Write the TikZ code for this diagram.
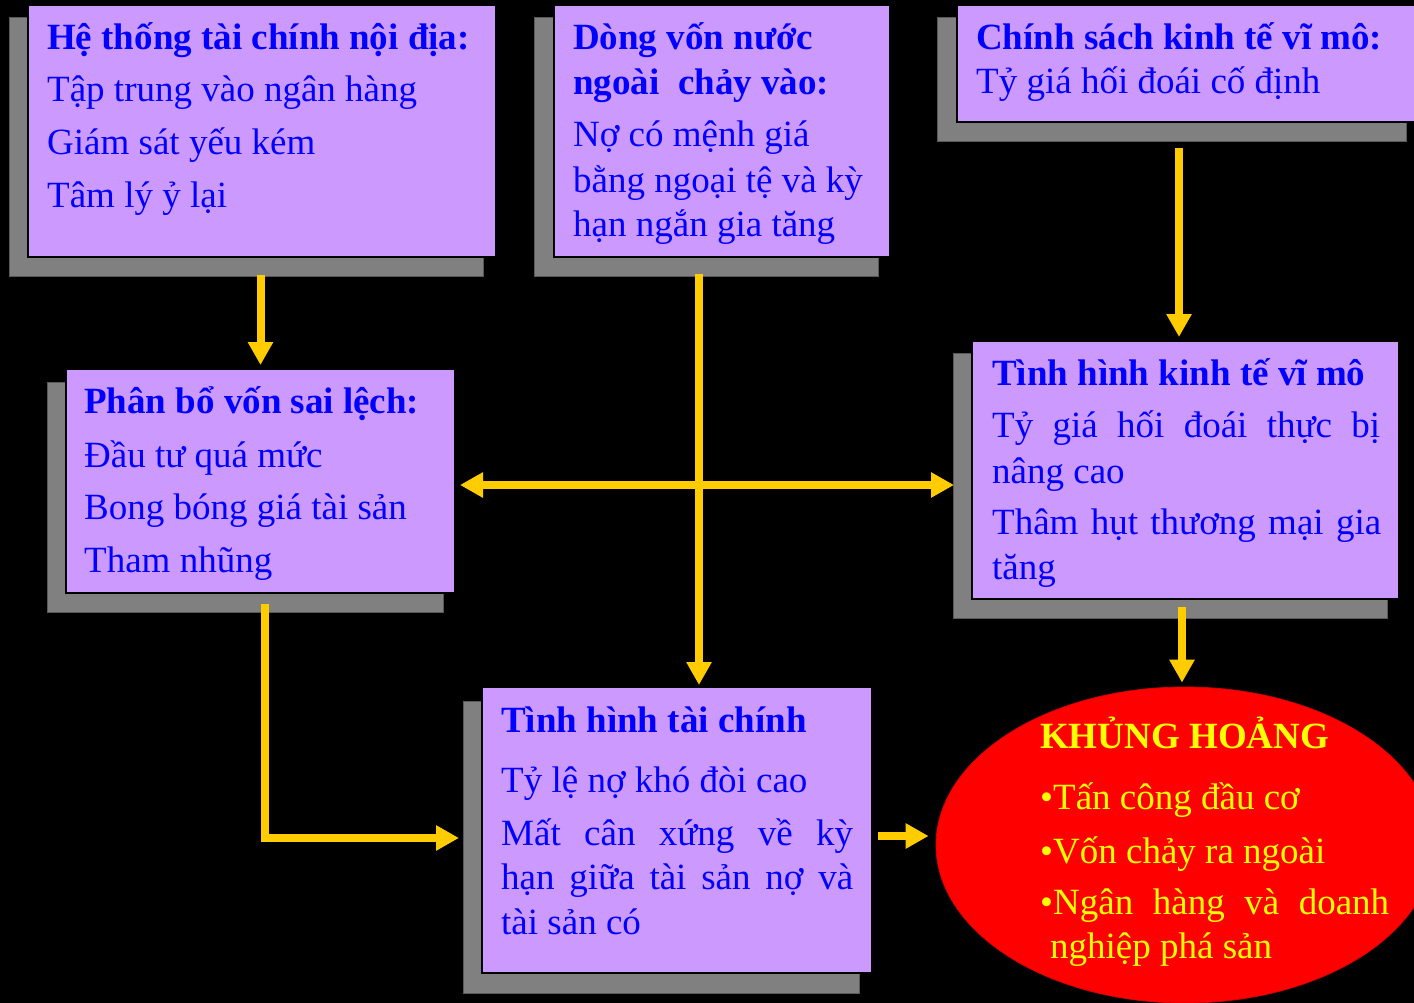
\documentclass[tikz,border=0pt]{standalone}
\usepackage{fontspec}
\setmainfont{Liberation Serif}
\usetikzlibrary{arrows.meta,shapes.geometric}
\definecolor{boxpurple}{HTML}{CC99FF}
\definecolor{shadowgray}{HTML}{808080}
\definecolor{arrowyellow}{HTML}{FFCC00}
\definecolor{txtblue}{HTML}{0000FF}
\definecolor{crisisred}{HTML}{FF0000}
\definecolor{crisisyellow}{HTML}{FFFF00}
\tikzset{
  shadowbox/.style={fill=shadowgray, draw=black!65, line width=0.8pt, inner sep=0pt, outer sep=0pt, anchor=north west},
  pbox/.style={fill=boxpurple, draw=black, line width=1.5pt, inner sep=0pt, outer sep=0pt, anchor=north west},
  txt/.style={font=\fontsize{37}{44}\selectfont, text=txtblue, anchor=base west, inner sep=0pt},
  btxt/.style={txt, font=\fontsize{37}{44}\selectfont\bfseries},
  ytxt/.style={txt, text=crisisyellow},
  ybtxt/.style={btxt, text=crisisyellow},
  arr/.style={draw=arrowyellow, line width=8pt, -{Triangle[length=23pt,width=24pt]}},
  darr/.style={draw=arrowyellow, line width=8pt, {Triangle[length=23pt,width=24pt]}-{Triangle[length=23pt,width=24pt]}}
}
\begin{document}
\begin{tikzpicture}[x=1pt,y=-1pt]
\useasboundingbox (0,0) rectangle (1414,1003);
\fill[black] (0,0) rectangle (1414,1003);

% Box 1
\node[shadowbox, minimum width=474pt, minimum height=259pt] (sh1) at (9,17) {};
\node[pbox, minimum width=468pt, minimum height=252pt] (b1) at (28,5) {};
\node[btxt] (t1a) at (47,50) {Hệ thống tài chính nội địa:};
\node[txt] (t1b) at (47,102) {Tập trung vào ngân hàng};
\node[txt] (t1c) at (47,155) {Giám sát yếu kém};
\node[txt] (t1d) at (47,208) {Tâm lý ỷ lại};

% Box 2
\node[shadowbox, minimum width=344pt, minimum height=259pt] (sh2) at (534,17) {};
\node[pbox, minimum width=336pt, minimum height=252pt] (b2) at (554,5) {};
\node[btxt] (t2a) at (573,50) {Dòng vốn nước};
\node[btxt] (t2b) at (573,95) {ngoài\ \ chảy vào:};
\node[txt] (t2c) at (573,147) {Nợ có mệnh giá};
\node[txt] (t2d) at (573,193) {bằng ngoại tệ và kỳ};
\node[txt] (t2e) at (573,237) {hạn ngắn gia tăng};

% Box 3
\node[shadowbox, minimum width=469pt, minimum height=124pt] (sh3) at (937,17) {};
\node[pbox, minimum width=462pt, minimum height=117pt] (b3) at (957,5) {};
\node[btxt] (t3a) at (976,50) {Chính sách kinh tế vĩ mô:};
\node[txt] (t3b) at (976,94) {Tỷ giá hối đoái cố định};

% Box 4
\node[shadowbox, minimum width=396pt, minimum height=230pt] (sh4) at (47,382) {};
\node[pbox, minimum width=389pt, minimum height=224pt] (b4) at (66,369) {};
\node[btxt] (t4a) at (84,413) {Phân bổ vốn sai lệch:};
\node[txt] (t4b) at (84,467) {Đầu tư quá mức};
\node[txt] (t4c) at (84,519) {Bong bóng giá tài sản};
\node[txt] (t4d) at (84,572) {Tham nhũng};

% Box 5
\node[shadowbox, minimum width=434pt, minimum height=265pt] (sh5) at (953,353) {};
\node[pbox, minimum width=427pt, minimum height=258pt] (b5) at (972,341) {};
\node[btxt] (t5a) at (992,385) {Tình hình kinh tế vĩ mô};
\node[txt] (t5b) at (992,437) {\makebox[388pt][s]{Tỷ giá hối đoái thực bị}};
\node[txt] (t5c) at (992,483) {nâng cao};
\node[txt] (t5d) at (992,534) {\makebox[389pt][s]{Thâm hụt thương mại gia}};
\node[txt] (t5e) at (992,579) {tăng};

% Box 6
\node[shadowbox, minimum width=396pt, minimum height=292pt] (sh6) at (463,701) {};
\node[pbox, minimum width=390pt, minimum height=286pt] (b6) at (482,687) {};
\node[btxt] (t6a) at (501,732) {Tình hình tài chính};
\node[txt] (t6b) at (501,792) {Tỷ lệ nợ khó đòi cao};
\node[txt] (t6c) at (501,845) {\makebox[352pt][s]{Mất cân xứng về kỳ}};
\node[txt] (t6d) at (501,889) {\makebox[352pt][s]{hạn giữa tài sản nợ và}};
\node[txt] (t6e) at (501,934) {tài sản có};

% Crisis ellipse
\node[ellipse, fill=crisisred, draw=crisisred!85!black, line width=0.8pt, minimum width=498pt, minimum height=316pt, inner sep=0pt] (cr) at (1185,845) {};
\node[ybtxt] (t7a) at (1040,748) {KHỦNG HOẢNG};
\node[ytxt] (t7b) at (1040,809) {•Tấn công đầu cơ};
\node[ytxt] (t7c) at (1040,863) {•Vốn chảy ra ngoài};
\node[ytxt] (t7d) at (1040,914) {\makebox[349pt][s]{•Ngân hàng và doanh}};
\node[ytxt] (t7e) at (1050,958) {nghiệp phá sản};

% Connector coordinates
\coordinate (x2) at (699,0);
\coordinate (x3) at (1179,0);
\coordinate (x4) at (265,0);
\coordinate (x5) at (1182,0);
\coordinate (yh) at (0,485);
\coordinate (y6) at (0,836);
\coordinate (y4) at (0,838);

% Connectors
\draw[arr] ([yshift=1pt]sh1.south -| b4.north) -- ([yshift=4pt]b4.north);
\draw[arr] ([yshift=2pt]sh2.south -| x2) -- ([yshift=2pt]b6.north -| x2);
\draw[arr] ([yshift=-7pt]sh3.south -| x3) -- ([yshift=4pt]b5.north -| x3);
\draw[darr] ([xshift=5pt]b4.east |- yh) -- ([xshift=1pt]sh5.west |- yh);
\draw[arr] ([yshift=8pt]sh4.south -| x4) |- ([xshift=-4pt]sh6.west |- y4);
\draw[arr] ([yshift=11pt]sh5.south -| x5) -- ([yshift=4pt]cr.north -| x5);
\draw[arr] ([xshift=6pt]b6.east |- y6) -- ([xshift=-7pt]cr.west |- y6);
\end{tikzpicture}
\end{document}
